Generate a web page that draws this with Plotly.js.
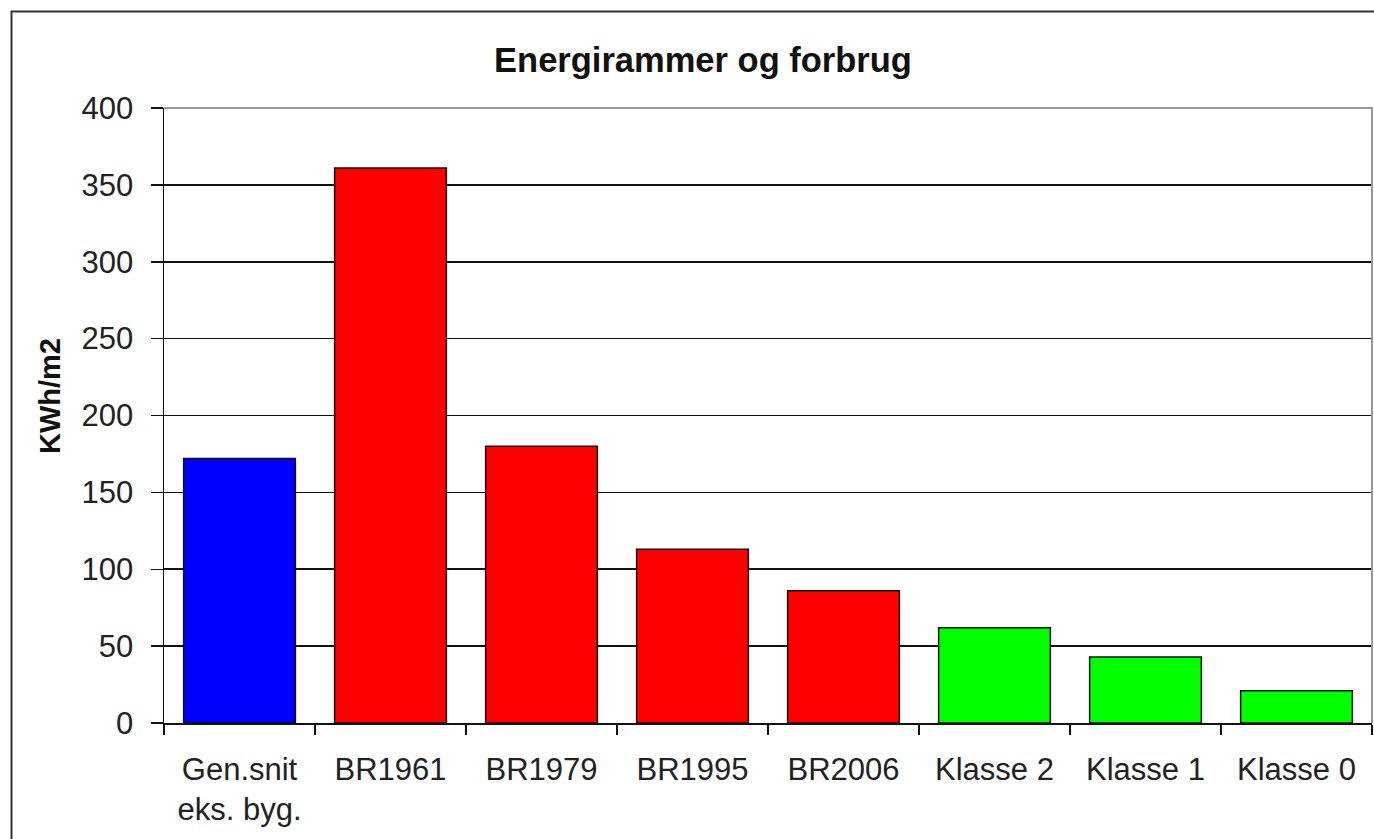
<!DOCTYPE html>
<html>
<head>
<meta charset="utf-8">
<script src="https://cdn.plot.ly/plotly-3.0.1.min.js"></script>
<style>html,body{margin:0;padding:0;background:#fff;}#chart{width:1374px;height:839px;}</style>
</head>
<body>
<div id="chart"></div>
<script>
const categories = ["Gen.snit<br>eks. byg.", "BR1961", "BR1979", "BR1995", "BR2006", "Klasse 2", "Klasse 1", "Klasse 0"];
const values = [172, 361, 180, 113, 86, 62, 43, 21];
const barColors = ["#0000FF", "#FF0000", "#FF0000", "#FF0000", "#FF0000", "#00FF00", "#00FF00", "#00FF00"];
const yTicks = [0, 50, 100, 150, 200, 250, 300, 350, 400];
const chartTitle = "Energirammer og forbrug";
const yTitle = "KWh/m2";

const trace = {
  type: "bar",
  x: categories,
  y: values,
  marker: {color: barColors, line: {color: "#111", width: 1.5}},
  hoverinfo: "x+y"
};

const layout = {
  width: 1374, height: 839,
  margin: {l: 164, r: 2, t: 108, b: 116},
  paper_bgcolor: "#fff", plot_bgcolor: "#fff",
  showlegend: false,
  bargap: 0.26,
  font: {family: "Liberation Sans, Arial, sans-serif", color: "#222"},
  title: {
    text: "<b>" + chartTitle + "</b>",
    font: {size: 34.5, color: "#111", family: "Liberation Sans, Arial, sans-serif"},
    x: 703 / 1374, xref: "container", xanchor: "center",
    y: 1 - 60 / 839, yref: "container", yanchor: "middle"
  },
  xaxis: {
    type: "category",
    tickson: "boundaries",
    ticks: "outside", ticklen: 10, tickwidth: 1.5, tickcolor: "#111",
    showline: true, linecolor: "#111", linewidth: 1.5,
    showgrid: false,
    tickfont: {size: 31, color: "#222"},
    ticklabelstandoff: 18,
    automargin: false
  },
  yaxis: {
    range: [0, 400],
    tickvals: yTicks,
    ticks: "outside", ticklen: 12, tickwidth: 1.5, tickcolor: "#111",
    showline: true, linecolor: "#111", linewidth: 1.5,
    showgrid: true, gridcolor: "#111", gridwidth: 1.6,
    zeroline: false,
    tickfont: {size: 31, color: "#222"},
    ticklabelstandoff: 11,
    automargin: false
  },
  annotations: [{
    text: "<b>" + yTitle + "</b>",
    xref: "paper", yref: "paper",
    x: (50 - 164) / 1208, y: (723 - 396) / 615,
    xanchor: "center", yanchor: "middle",
    textangle: -90, showarrow: false,
    font: {size: 29, color: "#111", family: "Liberation Sans, Arial, sans-serif"}
  }],
  shapes: [
    {type: "rect", xref: "paper", yref: "paper",
     x0: (11.5 - 164) / 1208, x1: 1.05, y0: -0.5, y1: (723 - 11.5) / 615,
     line: {color: "#333", width: 2}, fillcolor: "rgba(0,0,0,0)", layer: "below"},
    {type: "path", xref: "paper", yref: "paper",
     path: "M0,1 L1,1 L1,0", line: {color: "#999", width: 2}, layer: "above"}
  ]
};

Plotly.newPlot("chart", [trace], layout, {displayModeBar: false, staticPlot: true});
</script>
</body>
</html>
